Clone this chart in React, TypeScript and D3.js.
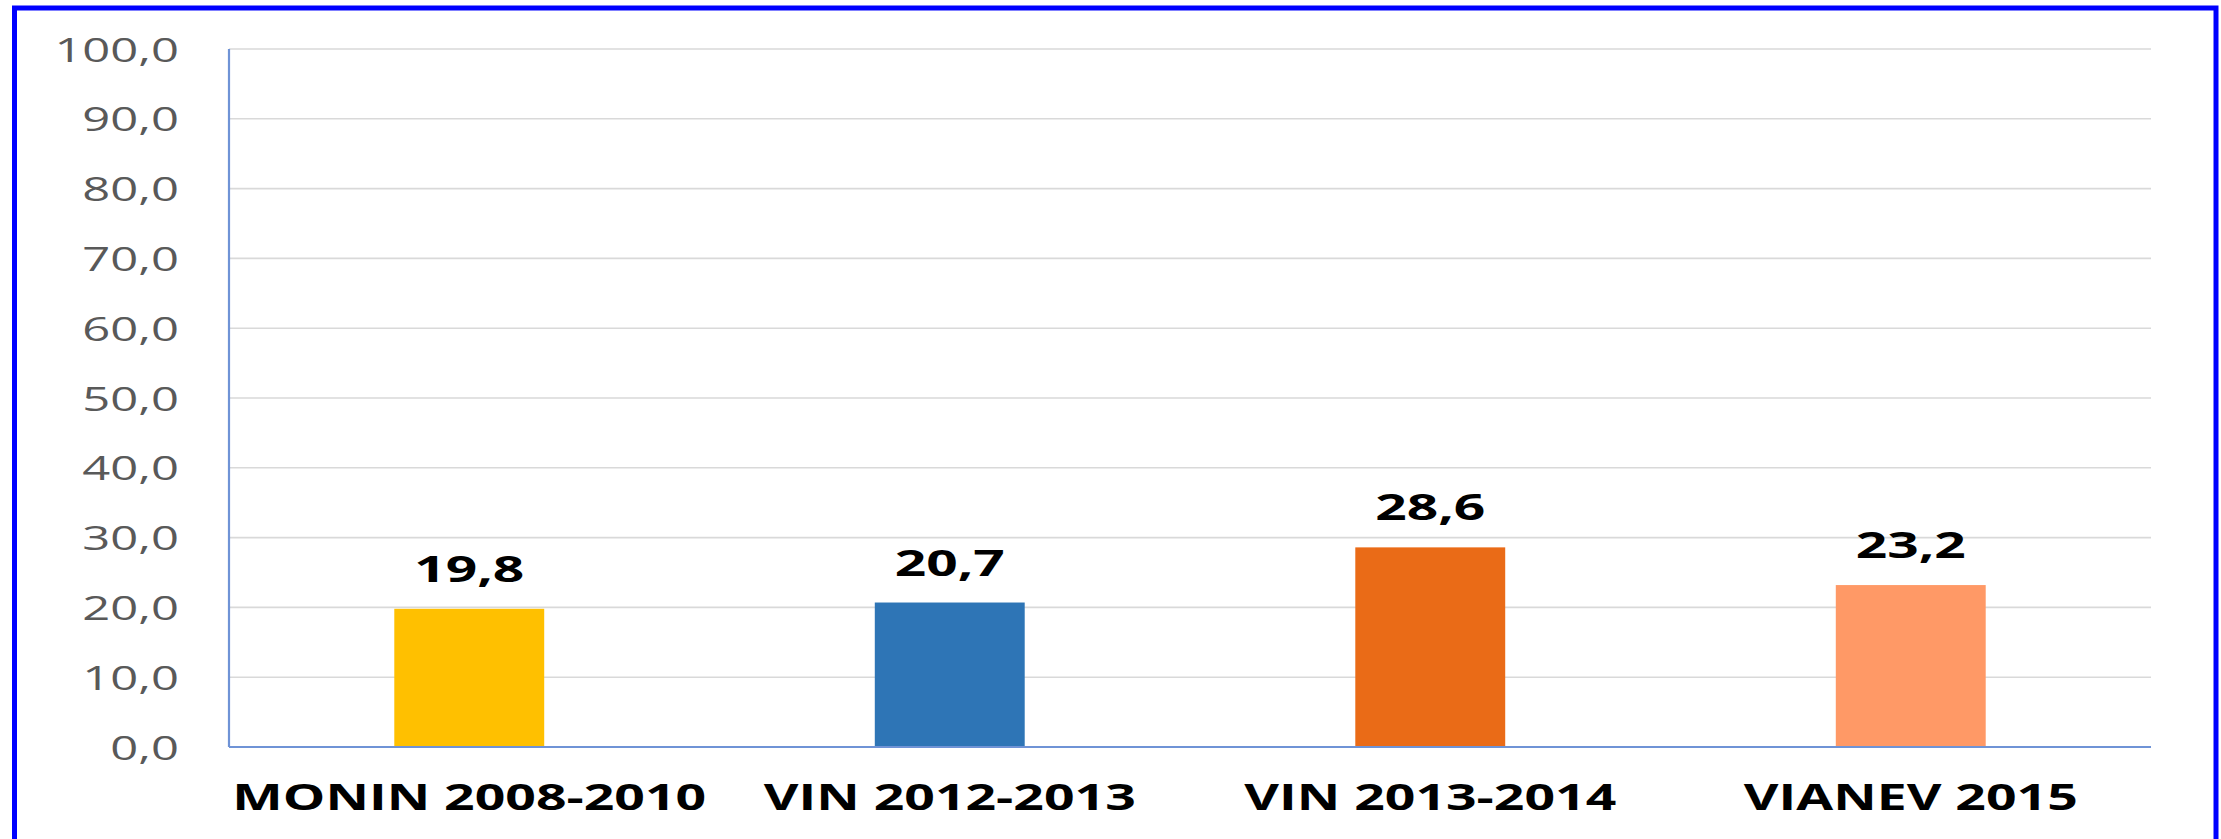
import React from "react";
import * as d3 from "d3";

const categories = ["MONIN 2008-2010", "VIN 2012-2013", "VIN 2013-2014", "VIANEV 2015"];
const values = [19.8, 20.7, 28.6, 23.2];
const valueLabels = ["19,8", "20,7", "28,6", "23,2"];
const barColors = ["#FFC000", "#2E75B6", "#EA6B17", "#FF9966"];
const yTicks = [0, 10, 20, 30, 40, 50, 60, 70, 80, 90, 100];
const yTickLabels = ["0,0", "10,0", "20,0", "30,0", "40,0", "50,0", "60,0", "70,0", "80,0", "90,0", "100,0"];

const W = 2221;
const H = 839;
const left = 229;
const right = 2151;
const top = 49;
const bottom = 747;
const SX = 1.53;
const FONT = "'Open Sans', 'Noto Sans', sans-serif";

export default function App() {
  const x = d3.scaleBand<string>().domain(categories).range([left, right]).paddingInner(0.688).paddingOuter(0.344);
  const y = d3.scaleLinear().domain([0, 100]).range([bottom, top]);

  return (
    <svg width={W} height={H} style={{ position: "absolute", left: 0, top: 0, background: "#fff" }}>
      <rect x={0} y={0} width={W} height={H} fill="#fff" />
      {yTicks.map((t) =>
        t === 0 ? null : (
          <line key={"g" + t} x1={left} x2={right} y1={y(t)} y2={y(t)} stroke="#D9D9D9" strokeWidth={1.6} />
        )
      )}
      {categories.map((c, i) => (
        <rect key={"b" + c} x={x(c)} y={y(values[i])} width={x.bandwidth()} height={bottom - y(values[i])} fill={barColors[i]} />
      ))}
      <line x1={left} x2={left} y1={top} y2={bottom} stroke="#6F93D6" strokeWidth={2.2} />
      <line x1={left} x2={right} y1={bottom} y2={bottom} stroke="#6F93D6" strokeWidth={2.2} />
      {yTicks.map((t, i) => (
        <g key={"yl" + t} transform={`translate(179,${y(t) + 1}) scale(${SX},1)`}>
          <text x={0} y={0} dy="0.36em" textAnchor="end" fontFamily={FONT} fontSize={32} fill="#595959">
            {yTickLabels[i]}
          </text>
        </g>
      ))}
      {categories.map((c, i) => (
        <g key={"vl" + c} transform={`translate(${(x(c) as number) + x.bandwidth() / 2},${y(values[i]) - 27}) scale(${SX},1)`}>
          <text x={0} y={0} textAnchor="middle" fontFamily={FONT} fontWeight="bold" fontSize={36} fill="#000">
            {valueLabels[i]}
          </text>
        </g>
      ))}
      {categories.map((c) => (
        <g key={"xl" + c} transform={`translate(${(x(c) as number) + x.bandwidth() / 2},810) scale(${SX},1)`}>
          <text x={0} y={0} textAnchor="middle" fontFamily={FONT} fontWeight="bold" fontSize={35} fill="#000">
            {c}
          </text>
        </g>
      ))}
      <rect x={14.5} y={8} width={2201.5} height={H + 20} fill="none" stroke="#0000FF" strokeWidth={5} />
    </svg>
  );
}
